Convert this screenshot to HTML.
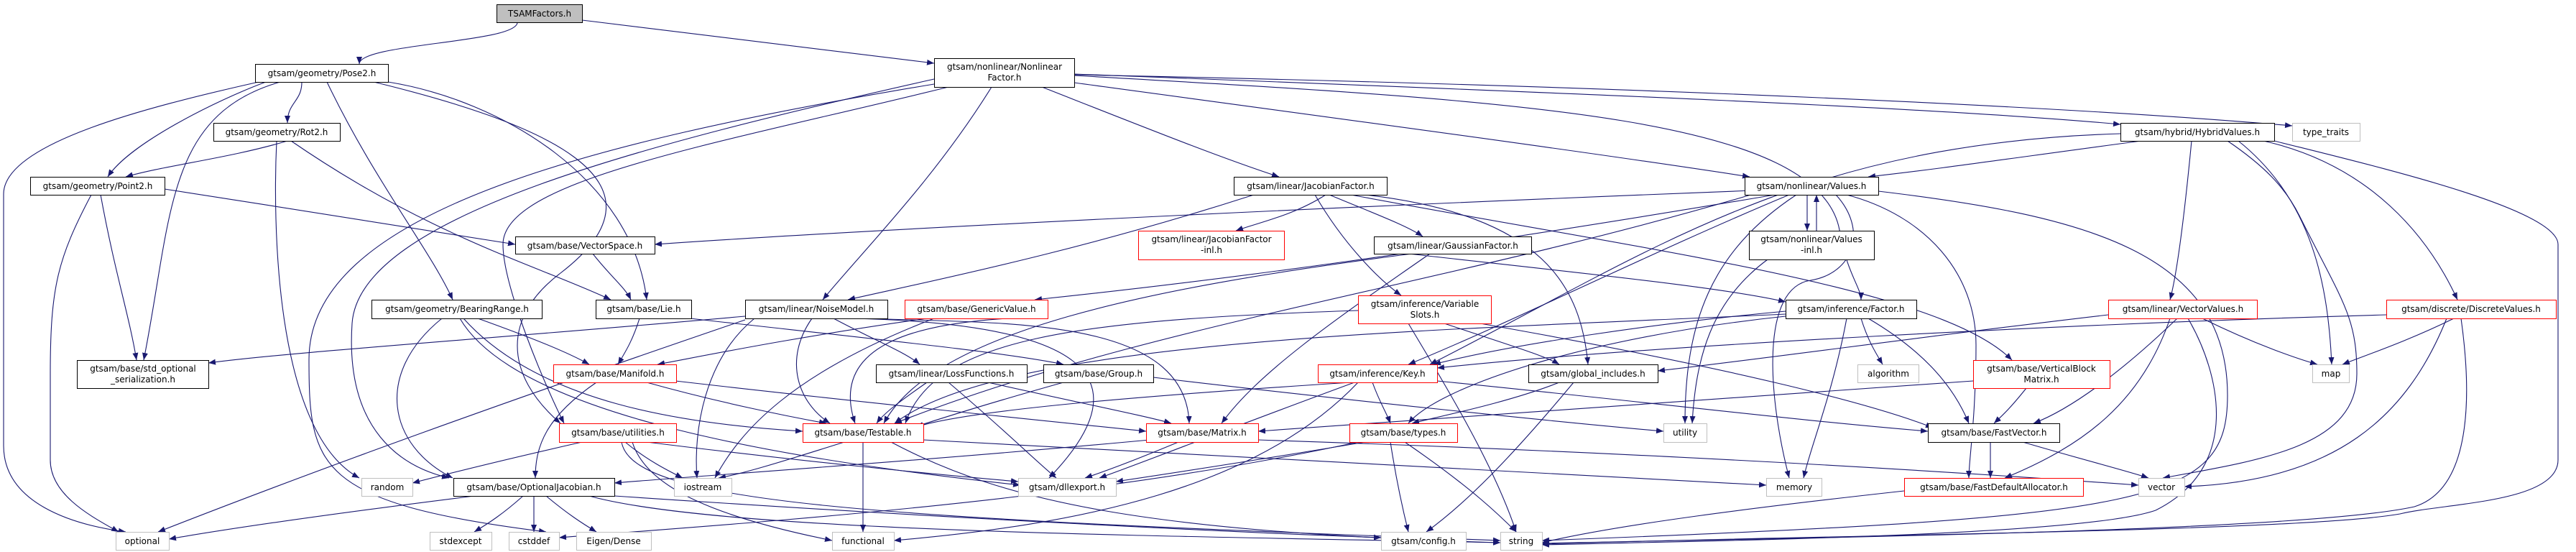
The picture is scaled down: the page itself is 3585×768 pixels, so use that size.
<!DOCTYPE html>
<html><head><meta charset="utf-8"><style>
html,body{margin:0;padding:0;background:#fff;}
svg{display:block;}
text{font-family:"DejaVu Sans","Liberation Sans",sans-serif;font-size:12px;fill:#000;}
.e path{fill:none;stroke:#191970;stroke-width:1.1;}
</style></head><body>
<svg width="3585" height="768" viewBox="0 0 3585 768" xmlns="http://www.w3.org/2000/svg">
<defs><marker id="a" markerWidth="11" markerHeight="8" refX="10" refY="4" orient="auto" markerUnits="userSpaceOnUse"><path d="M0,0 L10,4 L0,8 z" fill="#191970"/></marker></defs>
<g class="e" marker-end="url(#a)">
<path marker-end="url(#a)" d="M720 31 C720 60 500 60 500 89"/>
<path marker-end="url(#a)" d="M810 28 C1000 50 1150 70 1300 88"/>
<path marker-end="url(#a)" d="M420 114 C420 142 400 142 400 171"/>
<path marker-end="url(#a)" d="M370 114 C300 140 180 200 150 246"/>
<path marker-end="url(#a)" d="M360 114 C200 150 5 200 5 270 L5 620 C5 700 100 730 175 740"/>
<path marker-end="url(#a)" d="M390 114 C230 160 240 300 200 501"/>
<path marker-end="url(#a)" d="M455 114 C520 250 600 350 630 417"/>
<path marker-end="url(#a)" d="M540 114 C700 140 880 250 900 417"/>
<path marker-end="url(#a)" d="M520 114 C750 170 950 250 780 380 C700 440 700 520 780 589"/>
<path marker-end="url(#a)" d="M400 196 C320 220 230 230 175 246"/>
<path marker-end="url(#a)" d="M385 196 C380 300 380 600 500 665"/>
<path marker-end="url(#a)" d="M405 196 C600 330 750 370 850 417"/>
<path marker-end="url(#a)" d="M229 263 C400 290 600 320 717 340"/>
<path marker-end="url(#a)" d="M140 271 C160 380 180 440 190 501"/>
<path marker-end="url(#a)" d="M127 271 C80 360 70 400 70 520 L70 640 C70 690 130 720 165 740"/>
<path marker-end="url(#a)" d="M825 353 C850 385 870 400 878 417"/>
<path marker-end="url(#a)" d="M890 443 C880 475 870 490 860 507"/>
<path marker-end="url(#a)" d="M960 443 C1200 470 1400 490 1480 507"/>
<path marker-end="url(#a)" d="M665 443 C740 470 790 490 820 507"/>
<path marker-end="url(#a)" d="M615 443 C520 520 540 620 630 665"/>
<path marker-end="url(#a)" d="M645 443 C750 560 950 590 1117 600"/>
<path marker-end="url(#a)" d="M640 443 C720 580 1100 640 1420 675"/>
<path marker-end="url(#a)" d="M830 532 C760 580 745 620 745 665"/>
<path marker-end="url(#a)" d="M900 532 C1000 560 1100 580 1150 589"/>
<path marker-end="url(#a)" d="M940 530 C1200 560 1450 585 1595 600"/>
<path marker-end="url(#a)" d="M810 615 C700 640 620 660 574 672"/>
<path marker-end="url(#a)" d="M870 615 C900 640 930 655 950 665"/>
<path marker-end="url(#a)" d="M900 615 C1100 640 1300 660 1417 670"/>
<path marker-end="url(#a)" d="M865 615 C880 700 1200 720 2088 752"/>
<path marker-end="url(#a)" d="M880 615 C900 680 1000 720 1158 752"/>
<path marker-end="url(#a)" d="M660 690 C500 710 350 730 235 750"/>
<path marker-end="url(#a)" d="M728 690 C700 715 680 728 660 740"/>
<path marker-end="url(#a)" d="M743 690 L743 740"/>
<path marker-end="url(#a)" d="M760 690 C790 715 810 728 830 740"/>
<path marker-end="url(#a)" d="M855 690 C1300 720 1700 740 1922 748"/>
<path marker-end="url(#a)" d="M820 690 C1000 740 1600 745 2088 755"/>
<path marker-end="url(#a)" d="M1300 110 C900 200 500 300 490 450 C480 600 560 650 625 665"/>
<path marker-end="url(#a)" d="M1300 117 C800 200 430 300 430 500 C430 650 440 700 760 740"/>
<path marker-end="url(#a)" d="M1037 440 C700 470 400 490 290 505"/>
<path marker-end="url(#a)" d="M1320 121 C1000 200 700 250 700 340 C700 400 760 540 785 589"/>
<path marker-end="url(#a)" d="M1380 121 C1300 250 1200 350 1145 417"/>
<path marker-end="url(#a)" d="M1450 121 C1600 180 1700 220 1780 246"/>
<path marker-end="url(#a)" d="M1495 115 C1900 170 2200 210 2435 246"/>
<path marker-end="url(#a)" d="M1495 105 C2100 140 2530 160 2560 320 C2570 380 2590 400 2590 417"/>
<path marker-end="url(#a)" d="M1495 103 C2200 130 2700 150 2951 173"/>
<path marker-end="url(#a)" d="M1495 104 C2300 120 2900 150 3190 175"/>
<path marker-end="url(#a)" d="M1845 271 C1800 300 1750 310 1720 321"/>
<path marker-end="url(#a)" d="M1850 271 C1920 300 1960 315 1980 329"/>
<path marker-end="url(#a)" d="M1830 271 C1870 340 1920 390 1950 411"/>
<path marker-end="url(#a)" d="M1745 271 C1500 350 1300 390 1180 417"/>
<path marker-end="url(#a)" d="M1900 271 C2150 300 2200 400 2210 507"/>
<path marker-end="url(#a)" d="M1880 271 C2300 350 2700 400 2800 501"/>
<path marker-end="url(#a)" d="M1130 443 C1090 500 1110 560 1155 589"/>
<path marker-end="url(#a)" d="M1160 443 C1220 475 1260 490 1280 507"/>
<path marker-end="url(#a)" d="M1200 443 C1400 450 1650 440 1655 589"/>
<path marker-end="url(#a)" d="M1185 443 C1500 450 1600 520 1460 665"/>
<path marker-end="url(#a)" d="M1050 443 C980 500 965 600 970 665"/>
<path marker-end="url(#a)" d="M1037 445 C700 560 450 650 220 740"/>
<path marker-end="url(#a)" d="M1290 443 C1100 470 980 495 915 507"/>
<path marker-end="url(#a)" d="M1300 443 C1100 520 1030 600 995 665"/>
<path marker-end="url(#a)" d="M1400 443 C1300 450 1150 470 1190 589"/>
<path marker-end="url(#a)" d="M1290 532 C1250 560 1230 575 1220 589"/>
<path marker-end="url(#a)" d="M1320 532 C1400 600 1440 640 1470 665"/>
<path marker-end="url(#a)" d="M1375 532 C1500 560 1600 580 1630 589"/>
<path marker-end="url(#a)" d="M1480 532 C1380 560 1300 585 1255 600"/>
<path marker-end="url(#a)" d="M1605 525 C1900 560 2200 590 2315 600"/>
<path marker-end="url(#a)" d="M1175 615 C1080 645 1030 660 1000 665"/>
<path marker-end="url(#a)" d="M1201 615 L1201 740"/>
<path marker-end="url(#a)" d="M1240 615 C1400 700 1600 740 2088 755"/>
<path marker-end="url(#a)" d="M1285 612 C1800 640 2200 660 2458 675"/>
<path marker-end="url(#a)" d="M1600 612 C1300 640 1000 660 855 672"/>
<path marker-end="url(#a)" d="M1640 615 C1580 640 1540 655 1510 665"/>
<path marker-end="url(#a)" d="M1751 612 C2300 630 2700 655 2976 675"/>
<path marker-end="url(#a)" d="M2440 265 C1800 290 1200 320 911 340"/>
<path marker-end="url(#a)" d="M2470 271 C2000 350 1700 390 1440 417"/>
<path marker-end="url(#a)" d="M2490 271 C2300 350 2100 450 1960 507"/>
<path marker-end="url(#a)" d="M2515 271 L2515 321"/>
<path marker-end="url(#a)" d="M2528 321 L2528 271"/>
<path marker-end="url(#a)" d="M2500 271 C2380 350 2345 450 2345 589"/>
<path marker-end="url(#a)" d="M2555 271 C2600 320 2580 380 2520 390 C2450 400 2460 550 2490 665"/>
<path marker-end="url(#a)" d="M2570 271 C2680 300 2750 380 2750 480 C2750 580 2740 640 2740 665"/>
<path marker-end="url(#a)" d="M2614 266 C2900 300 3100 350 3100 550 C3100 700 3000 720 2146 752"/>
<path marker-end="url(#a)" d="M2440 270 C2000 400 1600 450 1245 589"/>
<path marker-end="url(#a)" d="M2460 361 C2380 420 2360 500 2355 589"/>
<path marker-end="url(#a)" d="M1960 353 C2200 380 2400 400 2485 420"/>
<path marker-end="url(#a)" d="M1965 353 C1600 400 1300 460 1230 589"/>
<path marker-end="url(#a)" d="M1990 353 C1850 450 1750 520 1700 589"/>
<path marker-end="url(#a)" d="M1960 450 C2020 550 2080 650 2110 740"/>
<path marker-end="url(#a)" d="M2010 450 C2100 480 2150 495 2170 507"/>
<path marker-end="url(#a)" d="M2060 450 C2400 510 2600 560 2690 595"/>
<path marker-end="url(#a)" d="M1890 432 C1500 445 1300 470 1260 589"/>
<path marker-end="url(#a)" d="M2485 433 C2300 450 2100 480 1995 507"/>
<path marker-end="url(#a)" d="M2485 440 C2200 470 2000 540 1960 589"/>
<path marker-end="url(#a)" d="M2570 443 C2550 550 2520 620 2510 665"/>
<path marker-end="url(#a)" d="M2590 443 C2600 475 2610 490 2620 507"/>
<path marker-end="url(#a)" d="M2600 443 C2680 490 2720 540 2740 589"/>
<path marker-end="url(#a)" d="M2485 437 C2000 460 1400 470 1245 589"/>
<path marker-end="url(#a)" d="M1910 532 C1920 560 1930 575 1935 589"/>
<path marker-end="url(#a)" d="M1880 532 C1600 550 1350 570 1275 594"/>
<path marker-end="url(#a)" d="M2000 530 C2300 560 2500 585 2683 600"/>
<path marker-end="url(#a)" d="M1885 532 C1700 600 1600 640 1530 665"/>
<path marker-end="url(#a)" d="M1890 532 C1750 680 1500 730 1244 752"/>
<path marker-end="url(#a)" d="M2170 532 C2100 560 2000 580 1965 589"/>
<path marker-end="url(#a)" d="M2190 532 C2100 640 2040 700 1985 740"/>
<path marker-end="url(#a)" d="M1935 615 C1945 680 1955 720 1960 740"/>
<path marker-end="url(#a)" d="M1955 615 C2050 680 2090 720 2110 740"/>
<path marker-end="url(#a)" d="M1900 615 C1750 640 1620 660 1553 670"/>
<path marker-end="url(#a)" d="M1890 615 C1500 700 1000 730 778 748"/>
<path marker-end="url(#a)" d="M2770 615 L2770 665"/>
<path marker-end="url(#a)" d="M2815 615 C2900 640 2960 655 2990 665"/>
<path marker-end="url(#a)" d="M2650 683 C2450 705 2250 730 2146 755"/>
<path marker-end="url(#a)" d="M2980 196 C2800 220 2700 235 2600 246"/>
<path marker-end="url(#a)" d="M3050 196 C3040 300 3030 380 3020 417"/>
<path marker-end="url(#a)" d="M3115 196 C3220 280 3240 400 3245 507"/>
<path marker-end="url(#a)" d="M3100 196 C3150 230 3180 260 3200 300 C3260 420 3280 440 3280 520 C3280 620 3150 640 3010 665"/>
<path marker-end="url(#a)" d="M3150 196 C3300 230 3380 330 3420 417"/>
<path marker-end="url(#a)" d="M3165 196 C3300 230 3560 290 3560 340 L3560 640 C3560 700 3400 700 3340 715 C3200 740 2500 745 2146 757"/>
<path marker-end="url(#a)" d="M2951 186 C2500 200 2300 350 1990 507"/>
<path marker-end="url(#a)" d="M3030 443 C2950 520 2880 570 2830 589"/>
<path marker-end="url(#a)" d="M3020 443 C2980 560 2900 620 2790 665"/>
<path marker-end="url(#a)" d="M3045 443 C3090 520 3120 650 3000 710 C2900 745 2400 752 2146 758"/>
<path marker-end="url(#a)" d="M3065 443 C3140 480 3200 500 3225 507"/>
<path marker-end="url(#a)" d="M2934 438 C2700 465 2450 500 2307 516"/>
<path marker-end="url(#a)" d="M3321 438 C2900 450 2300 480 2000 512"/>
<path marker-end="url(#a)" d="M3415 443 C3350 475 3290 495 3260 507"/>
<path marker-end="url(#a)" d="M3405 443 C3350 580 3250 670 3040 677"/>
<path marker-end="url(#a)" d="M3425 443 C3440 550 3440 680 3360 705 C3200 740 2500 748 2146 756"/>
<path marker-end="url(#a)" d="M2820 540 C2800 565 2790 575 2775 589"/>
<path marker-end="url(#a)" d="M2746 530 C2300 560 2000 585 1751 600"/>
</g>
<g>
<rect x="691.5" y="6.5" width="119" height="25" fill="#bfbfbf" stroke="#000"/><text x="751" y="23" text-anchor="middle">TSAMFactors.h</text>
<rect x="355.5" y="89.5" width="185" height="25" fill="#fff" stroke="#000"/><text x="448" y="106" text-anchor="middle">gtsam/geometry/Pose2.h</text>
<rect x="297.5" y="171.5" width="176" height="25" fill="#fff" stroke="#000"/><text x="385" y="188" text-anchor="middle">gtsam/geometry/Rot2.h</text>
<rect x="42.5" y="246.5" width="187" height="25" fill="#fff" stroke="#000"/><text x="136" y="263" text-anchor="middle">gtsam/geometry/Point2.h</text>
<rect x="717.5" y="329.5" width="194" height="24" fill="#fff" stroke="#000"/><text x="814" y="346" text-anchor="middle">gtsam/base/VectorSpace.h</text>
<rect x="829.5" y="417.5" width="133" height="26" fill="#fff" stroke="#000"/><text x="896" y="434" text-anchor="middle">gtsam/base/Lie.h</text>
<rect x="517.5" y="417.5" width="237" height="26" fill="#fff" stroke="#000"/><text x="636" y="434" text-anchor="middle">gtsam/geometry/BearingRange.h</text>
<rect x="107.5" y="501.5" width="183" height="39" fill="#fff" stroke="#000"/><text x="199" y="517" text-anchor="middle">gtsam/base/std_optional</text><text x="199" y="532" text-anchor="middle">_serialization.h</text>
<rect x="770.5" y="507.5" width="171" height="25" fill="#fff" stroke="#f00"/><text x="856" y="524" text-anchor="middle">gtsam/base/Manifold.h</text>
<rect x="778.5" y="589.5" width="163" height="26" fill="#fff" stroke="#f00"/><text x="860" y="606" text-anchor="middle">gtsam/base/utilities.h</text>
<rect x="503.5" y="665.5" width="71" height="25" fill="#fff" stroke="#bfbfbf"/><text x="539" y="682" text-anchor="middle">random</text>
<rect x="631.5" y="665.5" width="224" height="25" fill="#fff" stroke="#000"/><text x="743" y="682" text-anchor="middle">gtsam/base/OptionalJacobian.h</text>
<rect x="161.5" y="740.5" width="74" height="25" fill="#fff" stroke="#bfbfbf"/><text x="198" y="757" text-anchor="middle">optional</text>
<rect x="598.5" y="740.5" width="86" height="25" fill="#fff" stroke="#bfbfbf"/><text x="641" y="757" text-anchor="middle">stdexcept</text>
<rect x="708.5" y="740.5" width="70" height="25" fill="#fff" stroke="#bfbfbf"/><text x="743" y="757" text-anchor="middle">cstddef</text>
<rect x="802.5" y="740.5" width="104" height="25" fill="#fff" stroke="#bfbfbf"/><text x="854" y="757" text-anchor="middle">Eigen/Dense</text>
<rect x="1300.5" y="81.5" width="195" height="40" fill="#fff" stroke="#000"/><text x="1398" y="97" text-anchor="middle">gtsam/nonlinear/Nonlinear</text><text x="1398" y="112" text-anchor="middle">Factor.h</text>
<rect x="1717.5" y="246.5" width="213" height="25" fill="#fff" stroke="#000"/><text x="1824" y="263" text-anchor="middle">gtsam/linear/JacobianFactor.h</text>
<rect x="1584.5" y="321.5" width="203" height="40" fill="#fff" stroke="#f00"/><text x="1686" y="337" text-anchor="middle">gtsam/linear/JacobianFactor</text><text x="1686" y="352" text-anchor="middle">-inl.h</text>
<rect x="1037.5" y="417.5" width="198" height="26" fill="#fff" stroke="#000"/><text x="1136" y="434" text-anchor="middle">gtsam/linear/NoiseModel.h</text>
<rect x="1259.5" y="417.5" width="199" height="26" fill="#fff" stroke="#f00"/><text x="1359" y="434" text-anchor="middle">gtsam/base/GenericValue.h</text>
<rect x="1219.5" y="507.5" width="210" height="25" fill="#fff" stroke="#000"/><text x="1324" y="524" text-anchor="middle">gtsam/linear/LossFunctions.h</text>
<rect x="1452.5" y="507.5" width="153" height="25" fill="#fff" stroke="#000"/><text x="1529" y="524" text-anchor="middle">gtsam/base/Group.h</text>
<rect x="1117.5" y="589.5" width="168" height="26" fill="#fff" stroke="#f00"/><text x="1201" y="606" text-anchor="middle">gtsam/base/Testable.h</text>
<rect x="1595.5" y="589.5" width="156" height="26" fill="#fff" stroke="#f00"/><text x="1673" y="606" text-anchor="middle">gtsam/base/Matrix.h</text>
<rect x="938.5" y="665.5" width="80" height="25" fill="#fff" stroke="#bfbfbf"/><text x="978" y="682" text-anchor="middle">iostream</text>
<rect x="1417.5" y="665.5" width="136" height="25" fill="#fff" stroke="#bfbfbf"/><text x="1485" y="682" text-anchor="middle">gtsam/dllexport.h</text>
<rect x="1158.5" y="740.5" width="86" height="25" fill="#fff" stroke="#bfbfbf"/><text x="1201" y="757" text-anchor="middle">functional</text>
<rect x="2428.5" y="246.5" width="186" height="25" fill="#fff" stroke="#000"/><text x="2521" y="263" text-anchor="middle">gtsam/nonlinear/Values.h</text>
<rect x="2434.5" y="321.5" width="174" height="40" fill="#fff" stroke="#000"/><text x="2521" y="337" text-anchor="middle">gtsam/nonlinear/Values</text><text x="2521" y="352" text-anchor="middle">-inl.h</text>
<rect x="1912.5" y="329.5" width="219" height="24" fill="#fff" stroke="#000"/><text x="2022" y="346" text-anchor="middle">gtsam/linear/GaussianFactor.h</text>
<rect x="1890.5" y="411.5" width="185" height="39" fill="#fff" stroke="#f00"/><text x="1983" y="427" text-anchor="middle">gtsam/inference/Variable</text><text x="1983" y="442" text-anchor="middle">Slots.h</text>
<rect x="2485.5" y="417.5" width="182" height="26" fill="#fff" stroke="#000"/><text x="2576" y="434" text-anchor="middle">gtsam/inference/Factor.h</text>
<rect x="1834.5" y="507.5" width="166" height="25" fill="#fff" stroke="#f00"/><text x="1917" y="524" text-anchor="middle">gtsam/inference/Key.h</text>
<rect x="2127.5" y="507.5" width="180" height="25" fill="#fff" stroke="#000"/><text x="2217" y="524" text-anchor="middle">gtsam/global_includes.h</text>
<rect x="2585.5" y="507.5" width="85" height="25" fill="#fff" stroke="#bfbfbf"/><text x="2628" y="524" text-anchor="middle">algorithm</text>
<rect x="1878.5" y="589.5" width="150" height="26" fill="#fff" stroke="#f00"/><text x="1953" y="606" text-anchor="middle">gtsam/base/types.h</text>
<rect x="2315.5" y="589.5" width="60" height="26" fill="#fff" stroke="#bfbfbf"/><text x="2345" y="606" text-anchor="middle">utility</text>
<rect x="2683.5" y="589.5" width="183" height="26" fill="#fff" stroke="#000"/><text x="2775" y="606" text-anchor="middle">gtsam/base/FastVector.h</text>
<rect x="2458.5" y="665.5" width="77" height="25" fill="#fff" stroke="#bfbfbf"/><text x="2497" y="682" text-anchor="middle">memory</text>
<rect x="2650.5" y="665.5" width="249" height="25" fill="#fff" stroke="#f00"/><text x="2775" y="682" text-anchor="middle">gtsam/base/FastDefaultAllocator.h</text>
<rect x="1922.5" y="740.5" width="118" height="25" fill="#fff" stroke="#bfbfbf"/><text x="1981" y="757" text-anchor="middle">gtsam/config.h</text>
<rect x="2088.5" y="740.5" width="58" height="25" fill="#fff" stroke="#bfbfbf"/><text x="2117" y="757" text-anchor="middle">string</text>
<rect x="2951.5" y="171.5" width="214" height="25" fill="#fff" stroke="#000"/><text x="3058" y="188" text-anchor="middle">gtsam/hybrid/HybridValues.h</text>
<rect x="3190.5" y="171.5" width="94" height="25" fill="#fff" stroke="#bfbfbf"/><text x="3237" y="188" text-anchor="middle">type_traits</text>
<rect x="2934.5" y="417.5" width="207" height="26" fill="#fff" stroke="#f00"/><text x="3038" y="434" text-anchor="middle">gtsam/linear/VectorValues.h</text>
<rect x="3321.5" y="417.5" width="236" height="26" fill="#fff" stroke="#f00"/><text x="3439" y="434" text-anchor="middle">gtsam/discrete/DiscreteValues.h</text>
<rect x="2746.5" y="501.5" width="190" height="39" fill="#fff" stroke="#f00"/><text x="2841" y="517" text-anchor="middle">gtsam/base/VerticalBlock</text><text x="2841" y="532" text-anchor="middle">Matrix.h</text>
<rect x="3218.5" y="507.5" width="51" height="25" fill="#fff" stroke="#bfbfbf"/><text x="3244" y="524" text-anchor="middle">map</text>
<rect x="2976.5" y="665.5" width="64" height="25" fill="#fff" stroke="#bfbfbf"/><text x="3008" y="682" text-anchor="middle">vector</text>
</g>
</svg>
</body></html>
